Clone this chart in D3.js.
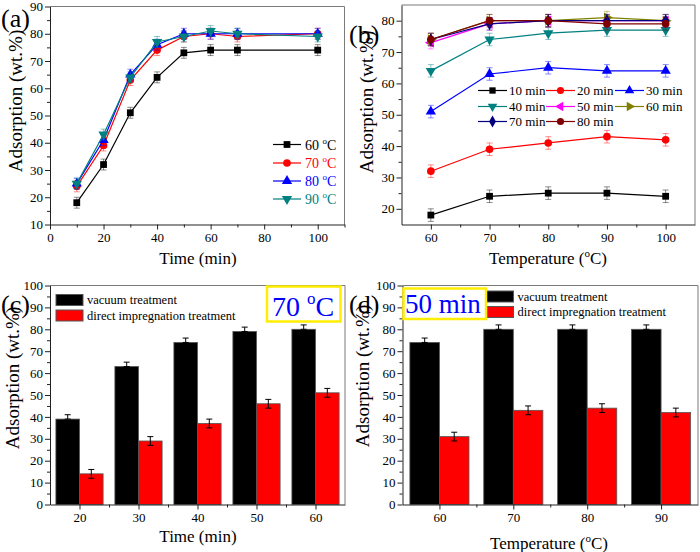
<!DOCTYPE html>
<html><head><meta charset="utf-8">
<script src="https://cdn.jsdelivr.net/npm/d3@7"></script>
<style>body{margin:0;background:#fff} svg text{font-family:"Liberation Serif","Times New Roman",Times,"DejaVu Serif",serif !important;font-weight:normal}</style>
</head><body><svg id="c" width="700" height="552" font-family="Liberation Serif"></svg>
<script>
// ---------- data ----------
const timeA = [10,20,30,40,50,60,70,100];
const seriesNamesA = ["60","70","80","90"];
const a60 = [18,32,51,64,73,74,74,74];
const a70 = [24,39,63,74,79,80,79,80];
const a80 = [25,41,65,76,80,80,80,80];
const a90 = [25,43,64,77,79,81,80,79];
const errA = 2;

const tempB = [60,70,80,90,100];
const seriesNamesB = ["10 min","20 min","30 min","40 min","50 min","60 min","70 min","80 min"];
const b10 = [18,24,25,25,24];
const b20 = [32,39,41,43,42];
const b30 = [51,63,65,64,64];
const b40 = [64,74,76,77,77];
const b50 = [73,79,80,80,80];
const b60 = [74,80,80,81,80];
const b70 = [74,79,80,80,80];
const b80 = [74,80,80,79,79];
const errB = 2;

const timeC = [20,30,40,50,60];
const cVacuum = [39,63,74,79,80];
const cDirect = [14,29,37,46,51];
const tempD = [60,70,80,90];
const dVacuum = [74,80,80,80];
const dDirect = [31,43,44,42];
const errBar = 2;
const barLegend = ["vacuum treatment","direct impregnation treatment"];

// ---------- helpers ----------
const FONT = '"Liberation Serif","Times New Roman",Times,serif';
const svg = d3.select("#c");
const FRAME = "#7a7a7a";

function frame(g, x, y, xMajor, xMinor, yMajor, yMinor) {
  const [x0,x1] = x.range(), [y0,y1] = y.range();
  g.append("line").attr("x1",x0).attr("x2",x1).attr("y1",y1).attr("y2",y1).attr("stroke",FRAME);
  g.append("line").attr("x1",x1).attr("x2",x1).attr("y1",y0).attr("y2",y1).attr("stroke",FRAME);
  g.append("g").attr("transform",`translate(0,${y0})`)
    .call(d3.axisBottom(x).tickValues(xMajor).tickSize(5).tickSizeOuter(0).tickPadding(3).tickFormat(d3.format("d")));
  const axm = g.append("g").attr("transform",`translate(0,${y0})`)
    .call(d3.axisBottom(x).tickValues(xMinor).tickSize(3).tickFormat(""));
  axm.select(".domain").remove();
  g.append("g").attr("transform",`translate(${x0},0)`)
    .call(d3.axisLeft(y).tickValues(yMajor).tickSize(5).tickSizeOuter(0).tickPadding(2).tickFormat(d3.format("d")));
  const aym = g.append("g").attr("transform",`translate(${x0},0)`)
    .call(d3.axisLeft(y).tickValues(yMinor).tickSize(3).tickFormat(""));
  aym.select(".domain").remove();
  g.selectAll("g").attr("font-family",FONT);
  g.selectAll(".tick text").attr("font-family",FONT).attr("font-size",13).attr("fill","#000");
  g.selectAll(".domain").attr("stroke","#222");
  g.selectAll(".tick line").attr("stroke","#222");
}

function txt(g, x, y, size) {
  return g.append("text").attr("x",x).attr("y",y).attr("font-family",FONT).attr("font-size",size);
}
function yTitle(g, cx, cy) {
  g.append("text").attr("transform",`translate(${cx},${cy}) rotate(-90)`)
    .attr("text-anchor","middle").attr("dominant-baseline","central")
    .attr("font-family",FONT).attr("font-size",19).text("Adsorption (wt.%)");
}
function tempTitle(g, cx, by) {
  const t = txt(g, cx, by, 17).attr("text-anchor","middle");
  t.append("tspan").text("Temperature (");
  t.append("tspan").attr("dy",-7).attr("font-size",11).text("o");
  t.append("tspan").attr("dy",7).text("C)");
}
function label(g, x, y, s) {
  txt(g, x, y, 26).text(s);
}
function mark(g, shape, rot, cx, cy, color, size) {
  g.append("path").attr("d", d3.symbol().type(shape).size(size||46)())
    .attr("transform",`translate(${cx},${cy}) rotate(${rot})`).attr("fill",color);
}
function errbar(g, x, yTop, yBot, color, op) {
  const e = g.append("g").attr("stroke",color).attr("stroke-opacity",op).attr("stroke-width",1);
  e.append("line").attr("x1",x).attr("x2",x).attr("y1",yTop).attr("y2",yBot);
  e.append("line").attr("x1",x-3).attr("x2",x+3).attr("y1",yTop).attr("y2",yTop);
  e.append("line").attr("x1",x-3).attr("x2",x+3).attr("y1",yBot).attr("y2",yBot);
}
function lineSeries(g, x, y, xs, vals, err, color, shape, rot, size) {
  vals.forEach((v,i)=>errbar(g, x(xs[i]), y(v+err), y(v-err), color, 0.45));
  g.append("path").datum(vals).attr("fill","none").attr("stroke",color).attr("stroke-width",1.2)
    .attr("d", d3.line().x((d,i)=>x(xs[i])).y(d=>y(d)));
  vals.forEach((v,i)=>mark(g, shape, rot, x(xs[i]), y(v), color, size));
}

// ---------- panel (a) ----------
{
  const g = svg.append("g");
  const x = d3.scaleLinear().domain([0,110]).range([50,344.5]);
  const y = d3.scaleLinear().domain([10,90]).range([224.5,6.5]);
  frame(g, x, y, d3.range(0,101,20), d3.range(10,111,20), d3.range(10,91,10), d3.range(15,90,10));
  const defs = [
    {v:a60, c:"#000000", s:d3.symbolSquare, r:0},
    {v:a70, c:"#ff0000", s:d3.symbolCircle, r:0},
    {v:a80, c:"#0000ff", s:d3.symbolTriangle, r:0},
    {v:a90, c:"#008080", s:d3.symbolTriangle, r:180}
  ];
  defs.forEach(d=>lineSeries(g, x, y, timeA, d.v, errA, d.c, d.s, d.r));
  const ly = [144.5,163,181,199];
  defs.forEach((d,i)=>{
    g.append("line").attr("x1",273).attr("x2",301).attr("y1",ly[i]).attr("y2",ly[i]).attr("stroke",d.c).attr("stroke-width",1.2);
    mark(g, d.s, d.r, 287, ly[i], d.c);
    const t = txt(g, 305, ly[i]+5, 14).attr("fill",d.c);
    t.append("tspan").text(seriesNamesA[i]+" ");
    t.append("tspan").attr("dy",-6).attr("font-size",9).text("o");
    t.append("tspan").attr("dy",6).text("C");
  });
  yTitle(g, 15, 101);
  txt(g, 198, 264, 17).attr("text-anchor","middle").text("Time (min)");
  label(g, 1, 27, "(a)");
}

// ---------- panel (b) ----------
{
  const g = svg.append("g");
  const x = d3.scaleLinear().domain([55,105]).range([401.5,695]);
  const y = d3.scaleLinear().domain([15,85]).range([224.5,5]);
  frame(g, x, y, d3.range(60,101,10), d3.range(65,105,10), d3.range(20,81,10), d3.range(25,85,10));
  const defs = [
    {v:b10, c:"#000000", s:d3.symbolSquare, r:0},
    {v:b20, c:"#ff0000", s:d3.symbolCircle, r:0},
    {v:b30, c:"#0000ff", s:d3.symbolTriangle, r:0},
    {v:b40, c:"#008080", s:d3.symbolTriangle, r:180},
    {v:b50, c:"#ff00ff", s:d3.symbolTriangle, r:-90},
    {v:b60, c:"#808000", s:d3.symbolTriangle, r:90},
    {v:b70, c:"#000080", s:d3.symbolDiamond, r:0},
    {v:b80, c:"#800000", s:d3.symbolCircle, r:0}
  ];
  defs.forEach(d=>lineSeries(g, x, y, tempB, d.v, errB, d.c, d.s, d.r));
  const colX = [478,546,615], rowY = [90.5,106.5,121.5];
  defs.forEach((d,i)=>{
    const cx = colX[i%3], cy = rowY[Math.floor(i/3)];
    g.append("line").attr("x1",cx).attr("x2",cx+29).attr("y1",cy).attr("y2",cy).attr("stroke",d.c).attr("stroke-width",1.2);
    mark(g, d.s, d.r, cx+14.5, cy, d.c, 40);
    txt(g, cx+31, cy+4.5, 13).text(seriesNamesB[i]);
  });
  yTitle(g, 366, 102);
  tempTitle(g, 548, 264);
  label(g, 349, 43, "(b)");
}

// ---------- bar panels ----------
function barPanel(xDom, xr, cats, vac, dir, leg) {
  const g = svg.append("g");
  const x = d3.scaleLinear().domain(xDom).range(xr);
  const y = d3.scaleLinear().domain([0,100]).range([504.5,285.5]);
  const bw = 4;
  cats.forEach((c,i)=>{
    g.append("rect").attr("x",x(c-bw)).attr("y",y(vac[i])).attr("width",x(c)-x(c-bw)).attr("height",y(0)-y(vac[i]))
      .attr("fill","#000").attr("stroke","#555").attr("stroke-width",0.8);
    g.append("rect").attr("x",x(c)).attr("y",y(dir[i])).attr("width",x(c+bw)-x(c)).attr("height",y(0)-y(dir[i]))
      .attr("fill","#ff0000").attr("stroke","#555").attr("stroke-width",0.8);
    errbar(g, x(c-bw/2), y(vac[i]+errBar), y(vac[i]), "#000", 1);
    errbar(g, x(c+bw/2), y(dir[i]+errBar), y(dir[i]-errBar), "#000", 1);
  });
  const minor = cats.slice(0,-1).map(c=>c+5);
  frame(g, x, y, cats, minor, d3.range(0,101,10), d3.range(5,100,10));
  g.append("rect").attr("x",leg[0]).attr("y",leg[1]).attr("width",leg[2]).attr("height",11).attr("fill","#000").attr("stroke","#555");
  g.append("rect").attr("x",leg[0]).attr("y",leg[1]+15.5).attr("width",leg[2]).attr("height",11).attr("fill","#ff0000").attr("stroke","#555");
  txt(g, leg[0]+leg[2]+4, leg[1]+9.5, 12.5).text(barLegend[0]);
  txt(g, leg[0]+leg[2]+4, leg[1]+25, 12.5).text(barLegend[1]);
  return g;
}

{
  const g = barPanel([15,65],[50,345], timeC, cVacuum, cDirect, [56,294.5,27]);
  g.append("rect").attr("x",267).attr("y",286.5).attr("width",73.5).attr("height",35).attr("fill","none").attr("stroke","#ffee00").attr("stroke-width",2.5);
  const t = txt(g, 272, 316, 28).attr("fill","#0000ff");
  t.append("tspan").text("70 ");
  t.append("tspan").attr("dy",-12).attr("font-size",17).text("o");
  t.append("tspan").attr("dy",12).text("C");
  yTitle(g, 12, 378);
  txt(g, 198, 542, 17).attr("text-anchor","middle").text("Time (min)");
  label(g, 1, 313, "(c)");
}
{
  const g = barPanel([55,95],[402.5,698], tempD, dVacuum, dDirect, [486.5,291,27]);
  g.append("rect").attr("x",403.5).attr("y",288.5).attr("width",82.5).attr("height",30.5).attr("fill","none").attr("stroke","#ffee00").attr("stroke-width",2.5);
  txt(g, 405, 313, 27).attr("fill","#0000ff").text("50 min");
  yTitle(g, 362, 376);
  tempTitle(g, 549, 549);
  label(g, 349, 313, "(d)");
}
</script></body></html>
